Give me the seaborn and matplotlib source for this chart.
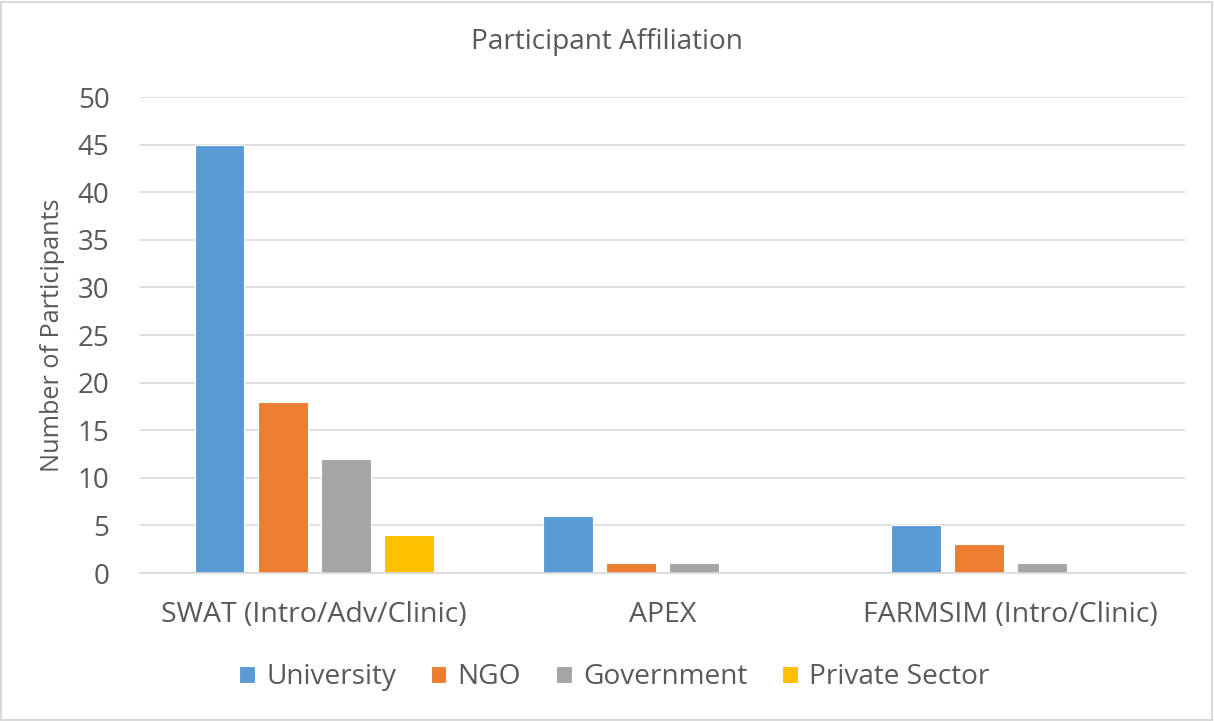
import pandas as pd
import seaborn as sns
from matplotlib import pyplot as plt
from matplotlib.patches import Rectangle

# data
courses = ["SWAT (Intro/Adv/Clinic)", "APEX", "FARMSIM (Intro/Clinic)"]
affiliations = ["University", "NGO", "Government", "Private Sector"]
university = [45, 6, 5]
ngo = [18, 1, 3]
government = [12, 1, 1]
private_sector = [4, 0, 0]
y_ticks = [0, 5, 10, 15, 20, 25, 30, 35, 40, 45, 50]
colors = ["#5B9BD5", "#ED7D31", "#A5A5A5", "#FFC000"]


def main():
    rows = []
    for name, vals in zip(affiliations, [university, ngo, government, private_sector]):
        for course, v in zip(courses, vals):
            rows.append({"Course": course, "Affiliation": name, "Count": v})
    df = pd.DataFrame(rows)

    sns.set_style("white")
    plt.rcParams["font.family"] = ["Open Sans", "DejaVu Sans"]
    text_color = "#595959"

    fig = plt.figure(figsize=(12.14, 7.21), dpi=100)
    ax = fig.add_axes([140 / 1214, 1 - 573 / 721, 1045 / 1214, 476 / 721])

    sns.barplot(
        data=df, x="Course", y="Count", hue="Affiliation",
        order=courses, hue_order=affiliations, palette=colors,
        width=0.724, gap=0.21, edgecolor="white", linewidth=0.8,
        saturation=1, ax=ax,
    )

    ax.set_ylim(0, 50)
    ax.set_yticks(y_ticks)
    ax.yaxis.grid(True, color="#D9D9D9", linewidth=1.2)
    ax.set_axisbelow(True)
    for side in ["top", "right", "left"]:
        ax.spines[side].set_visible(False)
    ax.spines["bottom"].set_color("#D9D9D9")
    ax.spines["bottom"].set_linewidth(1.2)
    ax.tick_params(axis="x", length=0, labelsize=20.5, colors=text_color, pad=20)
    ax.tick_params(axis="y", length=0, labelsize=20, colors=text_color, pad=22)
    ax.set_xlabel("")
    ax.set_ylabel("Number of Participants", fontsize=18.2, color=text_color)
    ax.yaxis.set_label_coords(-0.072, 0.5)

    fig.text(0.5, 1 - 42 / 721, "Participant Affiliation", ha="center", va="center",
             fontsize=20.2, color=text_color)

    handles, labels = ax.get_legend_handles_labels()
    ax.legend_.remove()
    fig.legend(handles, labels, loc="center", bbox_to_anchor=(0.506, 1 - 677 / 721),
               ncol=4, frameon=False, fontsize=20.2, labelcolor=text_color,
               handlelength=0.55, handleheight=0.55, handletextpad=0.4, columnspacing=1.25)

    fig.patches.append(Rectangle((0.001, 0.002), 0.997, 0.995, transform=fig.transFigure,
                                 fill=False, edgecolor="#D9D9D9", linewidth=1.5))

    plt.savefig("out.png", dpi=100)
    plt.close()


if __name__ == "__main__":
    main()
